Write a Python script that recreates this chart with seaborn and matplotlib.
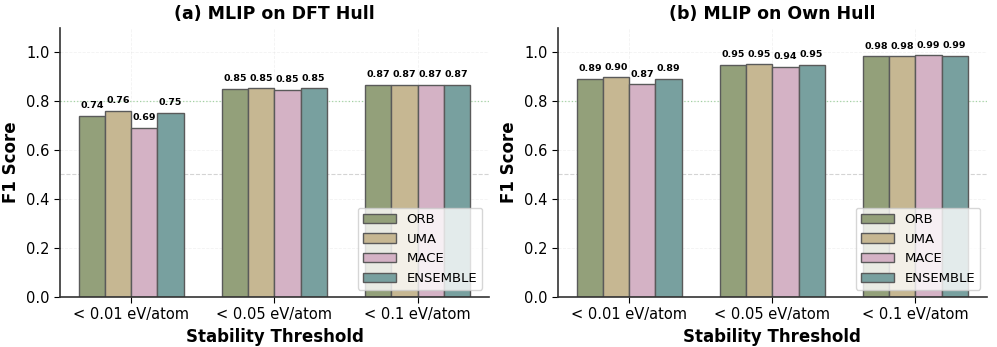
import numpy as np
import pandas as pd
import matplotlib
matplotlib.use("Agg")
import matplotlib.pyplot as plt
import seaborn as sns

# -----------------------------
# DATA
# -----------------------------
thresholds = ["< 0.01 eV/atom", "< 0.05 eV/atom", "< 0.1 eV/atom"]
models = ["ORB", "UMA", "MACE", "ENSEMBLE"]

dft_orb = [0.74, 0.85, 0.866]
dft_uma = [0.76, 0.852, 0.867]
dft_mace = [0.69, 0.846, 0.866]
dft_ens = [0.752, 0.852, 0.866]

own_orb = [0.892, 0.948, 0.983]
own_uma = [0.897, 0.951, 0.983]
own_mace = [0.869, 0.940, 0.987]
own_ens = [0.892, 0.948, 0.986]

colors = ["#93a07a", "#c6b792", "#d4b2c5", "#78a09f"]


def make_df(orb, uma, mace, ens):
    rows = []
    for name, vals in zip(models, [orb, uma, mace, ens]):
        for t, v in zip(thresholds, vals):
            rows.append({"Threshold": t, "Model": name, "F1": v})
    return pd.DataFrame(rows)


panels = [
    ("(a) MLIP on DFT Hull", make_df(dft_orb, dft_uma, dft_mace, dft_ens)),
    ("(b) MLIP on Own Hull", make_df(own_orb, own_uma, own_mace, own_ens)),
]

sns.set_style("white")
plt.rcParams["font.family"] = "sans-serif"
plt.rcParams["font.sans-serif"] = ["DejaVu Sans"]
plt.rcParams["text.color"] = "black"
plt.rcParams["axes.labelcolor"] = "black"
plt.rcParams["xtick.color"] = "black"
plt.rcParams["ytick.color"] = "black"

fig, axes = plt.subplots(1, 2, figsize=(9.97, 3.47), dpi=100)

for ax, (title, df) in zip(axes, panels):
    sns.barplot(
        data=df, x="Threshold", y="F1", hue="Model",
        hue_order=models, order=thresholds, palette=colors, saturation=1,
        width=0.73, edgecolor="#5a5a5a", linewidth=1.0, ax=ax,
    )
    for container in ax.containers:
        ax.bar_label(container, fmt="%.2f", padding=4,
                     fontsize=6.8, fontweight="bold", color="black")
    ax.grid(True, alpha=0.25, linestyle="--", linewidth=0.6, zorder=0)
    ax.set_axisbelow(True)
    ax.axhline(0.8, color="#3fa83f", linestyle=":", linewidth=0.9, alpha=0.45, zorder=0.8)
    ax.axhline(0.5, color="#aaaaaa", linestyle="--", linewidth=0.8, alpha=0.5, zorder=0.8)
    ax.set_ylim(0, 1.1)
    ax.set_yticks([0.0, 0.2, 0.4, 0.6, 0.8, 1.0])
    ax.set_title(title, fontsize=12.5, fontweight="bold", color="black")
    ax.set_xlabel("Stability Threshold", fontsize=12, fontweight="bold")
    ax.set_ylabel("F1 Score", fontsize=12, fontweight="bold")
    ax.tick_params(axis="both", labelsize=10.5, length=4, left=True, bottom=True)
    sns.despine(ax=ax)
    for s in ["left", "bottom"]:
        ax.spines[s].set_color("#333333")
        ax.spines[s].set_linewidth(1.2)
    ax.legend(loc="lower right", fontsize=9.5, framealpha=0.8, handlelength=2.5)

plt.subplots_adjust(left=0.06, right=0.99, top=0.92, bottom=0.145, wspace=0.16)
plt.savefig("out.png", dpi=100)
